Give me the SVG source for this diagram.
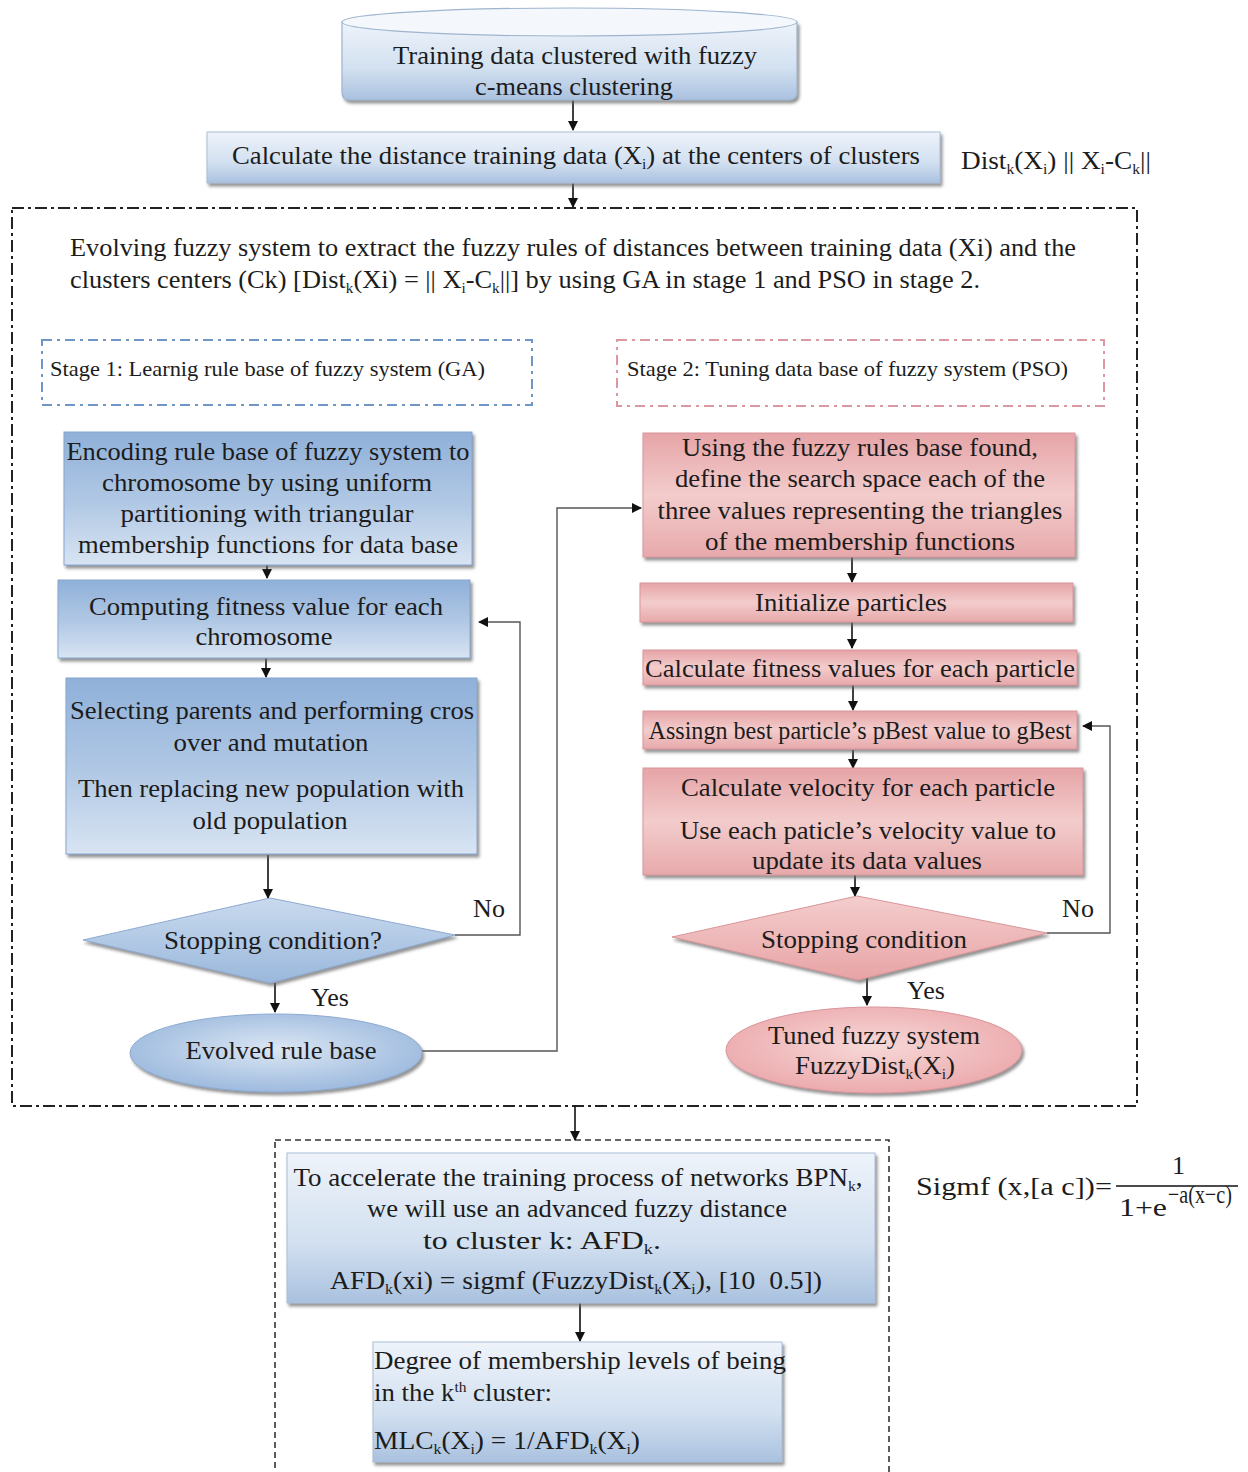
<svg xmlns="http://www.w3.org/2000/svg" width="1248" height="1472" viewBox="0 0 1248 1472">
<style>
.t{font-family:"Liberation Serif","Times New Roman",serif;font-size:26px;fill:#1c1c1c}
.m{text-anchor:middle}
.s20{font-size:22px}
.sb{font-size:15px}
.ln{stroke:#111;stroke-width:1.6;fill:none}
.fb{stroke:#555;stroke-width:1.4;fill:none}
</style>
<defs>
<marker id="ah" markerWidth="10" markerHeight="10" refX="9" refY="5" orient="auto" markerUnits="userSpaceOnUse">
<path d="M0,0 L10,5 L0,10 Z" fill="#111"/>
</marker>
<filter id="sh" x="-5%" y="-10%" width="110%" height="130%">
<feDropShadow dx="2" dy="3" stdDeviation="1.5" flood-color="#666" flood-opacity="0.7"/>
</filter>
<linearGradient id="gB" x1="0" y1="0" x2="0" y2="1">
<stop offset="0" stop-color="#8fb0d9"/><stop offset="0.55" stop-color="#b2c9e5"/><stop offset="1" stop-color="#d8e4f2"/>
</linearGradient>
<linearGradient id="gL" x1="0" y1="0" x2="0" y2="1">
<stop offset="0" stop-color="#eef3fa"/><stop offset="0.6" stop-color="#d2e0f0"/><stop offset="1" stop-color="#a9c1df"/>
</linearGradient>
<linearGradient id="gD" x1="0" y1="0" x2="0" y2="1">
<stop offset="0" stop-color="#c9daee"/><stop offset="1" stop-color="#9ab8dc"/>
</linearGradient>
<radialGradient id="gE" cx="0.5" cy="0.45" r="0.6">
<stop offset="0" stop-color="#dbe7f4"/><stop offset="1" stop-color="#98b6dc"/>
</radialGradient>
<linearGradient id="gP" x1="0" y1="0" x2="0" y2="1">
<stop offset="0" stop-color="#e6a4a7"/><stop offset="0.5" stop-color="#f3cccc"/><stop offset="1" stop-color="#e7a9ab"/>
</linearGradient>
<linearGradient id="gPD" x1="0" y1="0" x2="0" y2="1">
<stop offset="0" stop-color="#f4cdcd"/><stop offset="1" stop-color="#e8a3a6"/>
</linearGradient>
<radialGradient id="gPE" cx="0.5" cy="0.45" r="0.6">
<stop offset="0" stop-color="#f7d8d8"/><stop offset="1" stop-color="#eba7aa"/>
</radialGradient>
</defs>

<!-- containers -->
<rect id="outer" x="12" y="208" width="1125" height="898" fill="none" stroke="#222" stroke-width="2" stroke-dasharray="12 4 3 4"/>
<g id="evolving-text">
<text class="t" x="70" y="256" textLength="1006" lengthAdjust="spacingAndGlyphs">Evolving fuzzy system to extract the fuzzy rules of distances between training data (Xi) and the</text>
<text class="t" x="70" y="288" textLength="910" lengthAdjust="spacingAndGlyphs">clusters centers (Ck) [Dist<tspan class="sb" dy="5">k</tspan><tspan dy="-5">(Xi) = || X</tspan><tspan class="sb" dy="5">i</tspan><tspan dy="-5">-C</tspan><tspan class="sb" dy="5">k</tspan><tspan dy="-5">||] by using GA in stage 1 and PSO in stage 2.</tspan></text>
</g>
<g id="stage1">
<rect x="42" y="340" width="490" height="65" fill="none" stroke="#6f96c6" stroke-width="2" stroke-dasharray="10 5 3 5"/>
<text class="t s20" x="50" y="376" textLength="435" lengthAdjust="spacingAndGlyphs">Stage 1: Learnig rule base of fuzzy system (GA)</text>
</g>
<g id="stage2">
<rect x="617" y="340" width="487" height="66" fill="none" stroke="#dc98a0" stroke-width="2" stroke-dasharray="10 5 3 5"/>
<text class="t s20" x="627" y="376" textLength="441" lengthAdjust="spacingAndGlyphs">Stage 2: Tuning data base of fuzzy system (PSO)</text>
</g>
<rect id="bottom-frame" x="275" y="1140" width="614" height="340" fill="none" stroke="#333" stroke-width="1.6" stroke-dasharray="6 4"/>

<!-- connectors -->
<g id="connectors">
<line class="ln" x1="573" y1="100" x2="573" y2="130" marker-end="url(#ah)"/>
<line class="ln" x1="573" y1="183" x2="573" y2="207" marker-end="url(#ah)"/>
<line class="ln" x1="267" y1="565" x2="267" y2="578" marker-end="url(#ah)"/>
<line class="ln" x1="266" y1="658" x2="266" y2="677" marker-end="url(#ah)"/>
<line class="ln" x1="268" y1="855" x2="268" y2="898" marker-end="url(#ah)"/>
<polyline class="fb" points="455,935 520,935 520,622 479,622" marker-end="url(#ah)"/>
<line class="ln" x1="275" y1="983" x2="275" y2="1012" marker-end="url(#ah)"/>
<polyline class="fb" points="422,1051 557,1051 557,508 641,508" marker-end="url(#ah)"/>
<line class="ln" x1="852" y1="557" x2="852" y2="582" marker-end="url(#ah)"/>
<line class="ln" x1="852" y1="622" x2="852" y2="648" marker-end="url(#ah)"/>
<line class="ln" x1="853" y1="685" x2="853" y2="710" marker-end="url(#ah)"/>
<line class="ln" x1="853" y1="750" x2="853" y2="768" marker-end="url(#ah)"/>
<line class="ln" x1="855" y1="875" x2="855" y2="896" marker-end="url(#ah)"/>
<polyline class="fb" points="1047,933 1110,933 1110,726 1083,726" marker-end="url(#ah)"/>
<line class="ln" x1="867" y1="978" x2="867" y2="1005" marker-end="url(#ah)"/>
<line class="ln" x1="575" y1="1106" x2="575" y2="1140" marker-end="url(#ah)"/>
<line class="ln" x1="580" y1="1303" x2="580" y2="1341" marker-end="url(#ah)"/>
</g>

<!-- top nodes -->
<g id="n-cluster">
<path d="M342,22 L342,92 Q342,100 350,100 L789,100 Q797,100 797,92 L797,22 Z" fill="url(#gL)" stroke="#9fb5cf" stroke-width="1.2" filter="url(#sh)"/>
<ellipse cx="569.5" cy="22" rx="227.5" ry="14" fill="#f4f7fb" stroke="#9fb5cf" stroke-width="1.2"/>
<text class="t m" x="575" y="64" textLength="364" lengthAdjust="spacingAndGlyphs">Training data clustered with fuzzy</text>
<text class="t m" x="574" y="95" textLength="198" lengthAdjust="spacingAndGlyphs">c-means clustering</text>
</g>
<g id="n-distance">
<rect x="207" y="132" width="733" height="51" fill="url(#gL)" stroke="#a9bdd6" stroke-width="1" filter="url(#sh)"/>
<text class="t" x="232" y="164" textLength="688" lengthAdjust="spacingAndGlyphs">Calculate the distance training data (X<tspan class="sb" dy="5">i</tspan><tspan dy="-5">) at the centers of clusters</tspan></text>
</g>
<text id="dist-label" class="t" x="961" y="169" font-size="23" textLength="190" lengthAdjust="spacingAndGlyphs">Dist<tspan class="sb" dy="5">k</tspan><tspan dy="-5">(X</tspan><tspan class="sb" dy="5">i</tspan><tspan dy="-5">) || X</tspan><tspan class="sb" dy="5">i</tspan><tspan dy="-5">-C</tspan><tspan class="sb" dy="5">k</tspan><tspan dy="-5">||</tspan></text>

<!-- stage 1 nodes -->
<g id="n-encoding">
<rect x="64" y="432" width="408" height="133" fill="url(#gB)" stroke="#86a6ce" stroke-width="1" filter="url(#sh)"/>
<text class="t m" x="268" y="460" textLength="403" lengthAdjust="spacingAndGlyphs">Encoding rule base of fuzzy system to</text>
<text class="t m" x="267" y="491" textLength="330" lengthAdjust="spacingAndGlyphs">chromosome by using uniform</text>
<text class="t m" x="267" y="522" textLength="293" lengthAdjust="spacingAndGlyphs">partitioning with triangular</text>
<text class="t m" x="268" y="553" textLength="380" lengthAdjust="spacingAndGlyphs">membership functions for data base</text>
</g>
<g id="n-computing">
<rect x="58" y="580" width="412" height="78" fill="url(#gB)" stroke="#86a6ce" stroke-width="1" filter="url(#sh)"/>
<text class="t m" x="266" y="615" textLength="354" lengthAdjust="spacingAndGlyphs">Computing fitness value for each</text>
<text class="t m" x="264" y="645" textLength="137" lengthAdjust="spacingAndGlyphs">chromosome</text>
</g>
<g id="n-selecting">
<rect x="66" y="678" width="411" height="176" fill="url(#gB)" stroke="#86a6ce" stroke-width="1" filter="url(#sh)"/>
<text class="t m" x="272" y="719" textLength="404" lengthAdjust="spacingAndGlyphs">Selecting parents and performing cros</text>
<text class="t m" x="271" y="751" textLength="195" lengthAdjust="spacingAndGlyphs">over and mutation</text>
<text class="t m" x="271" y="797" textLength="386" lengthAdjust="spacingAndGlyphs">Then replacing new population with</text>
<text class="t m" x="270" y="829" textLength="155" lengthAdjust="spacingAndGlyphs">old population</text>
</g>
<g id="n-stop1">
<polygon points="270,898 455,935 270,983 83,940" fill="url(#gD)" stroke="#8eaad0" stroke-width="1" filter="url(#sh)"/>
<text class="t m" x="273" y="949" textLength="218" lengthAdjust="spacingAndGlyphs">Stopping condition?</text>
</g>
<text class="t m" x="489" y="917">No</text>
<text class="t m" x="330" y="1006">Yes</text>
<g id="n-evolved">
<ellipse cx="276" cy="1053" rx="146" ry="39" fill="url(#gE)" stroke="#8eaad0" stroke-width="1" filter="url(#sh)"/>
<text class="t m" x="281" y="1059" textLength="191" lengthAdjust="spacingAndGlyphs">Evolved rule base</text>
</g>

<!-- stage 2 nodes -->
<g id="n-using">
<rect x="643" y="433" width="432" height="124" fill="url(#gP)" stroke="#d9969a" stroke-width="1" filter="url(#sh)"/>
<text class="t m" x="860" y="456" textLength="356" lengthAdjust="spacingAndGlyphs">Using the fuzzy rules base found,</text>
<text class="t m" x="860" y="487" textLength="370" lengthAdjust="spacingAndGlyphs">define the search space each of the</text>
<text class="t m" x="860" y="519" textLength="405" lengthAdjust="spacingAndGlyphs">three values representing the triangles</text>
<text class="t m" x="860" y="550" textLength="310" lengthAdjust="spacingAndGlyphs">of the membership functions</text>
</g>
<g id="n-init">
<rect x="640" y="583" width="433" height="39" fill="url(#gP)" stroke="#d9969a" stroke-width="1" filter="url(#sh)"/>
<text class="t m" x="851" y="611" textLength="192" lengthAdjust="spacingAndGlyphs">Initialize particles</text>
</g>
<g id="n-fitness">
<rect x="643" y="650" width="434" height="35" fill="url(#gP)" stroke="#d9969a" stroke-width="1" filter="url(#sh)"/>
<text class="t m" x="860" y="677" textLength="430" lengthAdjust="spacingAndGlyphs">Calculate fitness values for each particle</text>
</g>
<g id="n-assign">
<rect x="643" y="711" width="434" height="38" fill="url(#gP)" stroke="#d9969a" stroke-width="1" filter="url(#sh)"/>
<text class="t m" x="860" y="739" font-size="23" textLength="423" lengthAdjust="spacingAndGlyphs">Assingn best particle’s pBest value to gBest</text>
</g>
<g id="n-velocity">
<rect x="643" y="768" width="440" height="107" fill="url(#gP)" stroke="#d9969a" stroke-width="1" filter="url(#sh)"/>
<text class="t m" x="868" y="796" textLength="374" lengthAdjust="spacingAndGlyphs">Calculate velocity for each particle</text>
<text class="t m" x="868" y="839" textLength="376" lengthAdjust="spacingAndGlyphs">Use each paticle’s velocity value to</text>
<text class="t m" x="867" y="869" textLength="230" lengthAdjust="spacingAndGlyphs">update its data values</text>
</g>
<g id="n-stop2">
<polygon points="857,896 1047,933 858,980 672,937" fill="url(#gPD)" stroke="#d9969a" stroke-width="1" filter="url(#sh)"/>
<text class="t m" x="864" y="948" textLength="206" lengthAdjust="spacingAndGlyphs">Stopping condition</text>
</g>
<text class="t m" x="1078" y="917">No</text>
<text class="t m" x="926" y="999">Yes</text>
<g id="n-tuned">
<ellipse cx="874" cy="1050" rx="148" ry="43" fill="url(#gPE)" stroke="#d9969a" stroke-width="1" filter="url(#sh)"/>
<text class="t m" x="874" y="1044" textLength="212" lengthAdjust="spacingAndGlyphs">Tuned fuzzy system</text>
<text class="t m" x="875" y="1074" textLength="160" lengthAdjust="spacingAndGlyphs">FuzzyDist<tspan class="sb" dy="5">k</tspan><tspan dy="-5">(X</tspan><tspan class="sb" dy="5">i</tspan><tspan dy="-5">)</tspan></text>
</g>

<!-- bottom nodes -->
<g id="n-accelerate">
<rect x="287" y="1153" width="588" height="150" fill="url(#gL)" stroke="#a9bdd6" stroke-width="1" filter="url(#sh)"/>
<text class="t m" x="578" y="1186" textLength="569" lengthAdjust="spacingAndGlyphs">To accelerate the training process of networks BPN<tspan class="sb" dy="5">k</tspan><tspan dy="-5">,</tspan></text>
<text class="t m" x="577" y="1217" textLength="420" lengthAdjust="spacingAndGlyphs">we will use an advanced fuzzy distance</text>
<text class="t m" x="542" y="1249" textLength="238" lengthAdjust="spacingAndGlyphs">to cluster k: AFD<tspan class="sb" dy="5">k</tspan><tspan dy="-5">.</tspan></text>
<text class="t m" x="576" y="1289" textLength="492" lengthAdjust="spacingAndGlyphs">AFD<tspan class="sb" dy="5">k</tspan><tspan dy="-5">(xi) = sigmf (FuzzyDist</tspan><tspan class="sb" dy="5">k</tspan><tspan dy="-5">(X</tspan><tspan class="sb" dy="5">i</tspan><tspan dy="-5">), [10&#160; 0.5])</tspan></text>
</g>
<g id="n-degree">
<rect x="373" y="1342" width="409" height="120" fill="url(#gL)" stroke="#a9bdd6" stroke-width="1" filter="url(#sh)"/>
<text class="t" x="374" y="1369" textLength="412" lengthAdjust="spacingAndGlyphs">Degree of membership levels of being</text>
<text class="t" x="374" y="1401" textLength="178" lengthAdjust="spacingAndGlyphs">in the k<tspan class="sb" dy="-9">th</tspan><tspan dy="9"> cluster:</tspan></text>
<text class="t" x="374" y="1449" textLength="266" lengthAdjust="spacingAndGlyphs">MLC<tspan class="sb" dy="5">k</tspan><tspan dy="-5">(X</tspan><tspan class="sb" dy="5">i</tspan><tspan dy="-5">) = 1/AFD</tspan><tspan class="sb" dy="5">k</tspan><tspan dy="-5">(X</tspan><tspan class="sb" dy="5">i</tspan><tspan dy="-5">)</tspan></text>
</g>

<!-- sigmoid formula -->
<g id="sigmf">
<text class="t" x="916" y="1195" font-size="27" textLength="196" lengthAdjust="spacingAndGlyphs">Sigmf (x,[a c])=</text>
<line x1="1116" y1="1186" x2="1238" y2="1186" stroke="#111" stroke-width="1.5"/>
<text class="t" x="1172" y="1174" font-size="27">1</text>
<text class="t" x="1119" y="1216" font-size="27" textLength="48" lengthAdjust="spacingAndGlyphs">1+e</text>
<text class="t" x="1168" y="1203" font-size="16" textLength="64" lengthAdjust="spacingAndGlyphs">−a(x−c)</text>
</g>
</svg>
